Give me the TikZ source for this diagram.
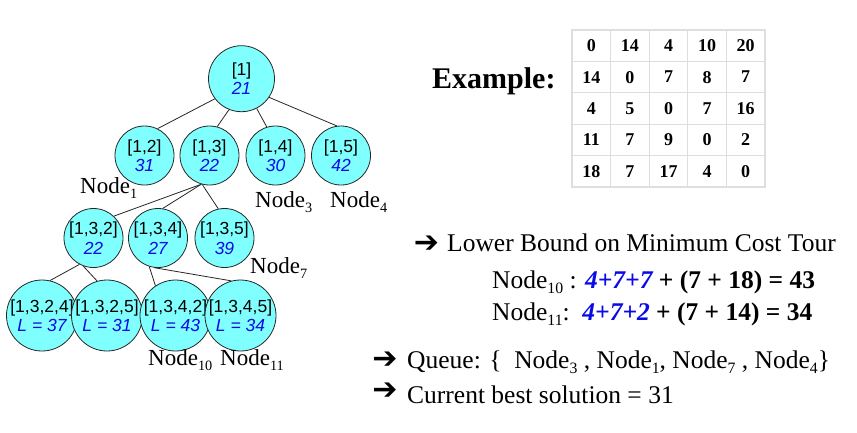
\documentclass[tikz,border=0pt]{standalone}
\usepackage{fontspec}
\usepackage{graphicx}
\setmainfont{Liberation Serif}
\newfontfamily\arialf{Liberation Sans}
\newfontfamily\dejavub{DejaVu Sans Bold}
\definecolor{cfill}{RGB}{128,255,255}
\definecolor{tblue}{RGB}{10,10,230}
\definecolor{gridc}{RGB}{222,222,222}
\newcommand{\sbs}[1]{\raisebox{-0.22em}{\scalebox{0.62}{#1}}}
\begin{document}
\begin{tikzpicture}[x=1pt,y=-1pt,
  tn/.style={circle, draw=black!85, line width=0.8pt, fill=cfill, minimum size=59pt, inner sep=0pt, align=center, font=\arialf\fontsize{17.5}{19.5}\selectfont},
  edge/.style={draw=black!85, line width=0.8pt},
  lbl/.style={anchor=base west, inner sep=0pt, font=\fontsize{23}{26}\selectfont},
  rtxt/.style={anchor=base west, inner sep=0pt, font=\fontsize{25.5}{30}\selectfont},
  arr/.style={anchor=center, inner sep=0pt, font=\dejavub\fontsize{30}{30}\selectfont},
  num/.style={inner sep=0pt, font=\bfseries\fontsize{18}{20}\selectfont},
  gridin/.style={draw=gridc, line width=1.2pt},
  gridout/.style={draw=gridc, line width=2.6pt}
]
\useasboundingbox (0,0) rectangle (857,432);

% tree nodes
\node[tn, minimum size=66pt] (r) at (241.5,78.7) {[1]\\{\color{tblue}\itshape 21}};
\node[tn] (n12) at (144.5,155.5) {[1,2]\\{\color{tblue}\itshape 31}};
\node[tn] (n13) at (209.5,155.5) {[1,3]\\{\color{tblue}\itshape 22}};
\node[tn] (n14) at (275.5,155.5) {[1,4]\\{\color{tblue}\itshape 30}};
\node[tn] (n15) at (341,155.5) {[1,5]\\{\color{tblue}\itshape 42}};
\node[tn] (n132) at (93.5,238) {[1,3,2]\\{\color{tblue}\itshape 22}};
\node[tn] (n134) at (158,238) {[1,3,4]\\{\color{tblue}\itshape 27}};
\node[tn] (n135) at (224.5,238) {[1,3,5]\\{\color{tblue}\itshape 39}};
\node[tn] (n1324) at (42,315.5) {[1,3,2,4]\\{\color{tblue}\itshape L = 37}};
\node[tn] (n1325) at (107,315.5) {[1,3,2,5]\\{\color{tblue}\itshape L = 31}};
\node[tn] (n1342) at (175.5,315.5) {[1,3,4,2]\\{\color{tblue}\itshape L = 43}};
\node[tn] (n1345) at (240.5,315.5) {[1,3,4,5]\\{\color{tblue}\itshape L = 34}};

% edges
\draw[edge] (r.217.5) -- (n12.64.7);
\draw[edge] (r.248) -- (n13.75);
\draw[edge] (r.297) -- (n14.107);
\draw[edge] (r.326) -- (n15.98);
\draw[edge] (n13.254) -- (n132.47);
\draw[edge] (n13.254) -- (n134.81);
\draw[edge] (n13.256) -- (n135.102);
\draw[edge] (n132.242) -- (n1324.77);
\draw[edge] (n132.250) -- (n1325.106);
\draw[edge] (n134.253) -- (n1342.124);
\draw[edge] (n134.262) -- (n1345.105);

% node labels
\node[lbl] (l1) at (80,193) {Node\sbs{1}};
\node[lbl] (l3) at (255,207) {Node\sbs{3}};
\node[lbl] (l4) at (330,207) {Node\sbs{4}};
\node[lbl] (l7) at (250,273) {Node\sbs{7}};
\node[lbl] (l10) at (148,365) {Node\sbs{10}};
\node[lbl] (l11) at (220,365) {Node\sbs{11}};

% Example + table
\node[anchor=base west, inner sep=0pt, font=\bfseries\fontsize{30}{34}\selectfont] (ex) at (432,88) {Example:};
\foreach \k in {1,2,3,4} {
  \draw[gridin] ({572+38.6*\k},30) -- ({572+38.6*\k},187);
  \draw[gridin] (572,{30+31.4*\k}) -- (765,{30+31.4*\k});
}
\draw[gridout] (572,30) rectangle (765,187);
\foreach \row [count=\i] in {{0,14,4,10,20},{14,0,7,8,7},{4,5,0,7,16},{11,7,9,0,2},{18,7,17,4,0}} {
  \foreach \v [count=\j] in \row {
    \node[num] (c\i\j) at ({572+38.6*(\j-0.5)},{30+31.4*(\i-0.5)}) {\v};
  }
}

% right text
\node[arr] (a1) at (426.5,244) {➔};
\node[rtxt] (t1) at (447,251) {Lower Bound on Minimum Cost Tour};
\node[rtxt] (t2) at (492,288) {Node\sbs{10} : {\color{tblue}\bfseries\itshape 4+7+7} \textbf{+ (7 + 18) = 43}};
\node[rtxt] (t3) at (492,320) {Node\sbs{11}:\ \ {\color{tblue}\bfseries\itshape 4+7+2} \textbf{+ (7 + 14) = 34}};
\node[arr] (a2) at (385,360) {➔};
\node[rtxt] (t4) at (407,368) {Queue: \{\ \ Node\sbs{3} , Node\sbs{1}, Node\sbs{7} , Node\sbs{4}\}};
\node[arr] (a3) at (385,391) {➔};
\node[rtxt] (t5) at (407,403) {Current best solution = 31};
\end{tikzpicture}
\end{document}
